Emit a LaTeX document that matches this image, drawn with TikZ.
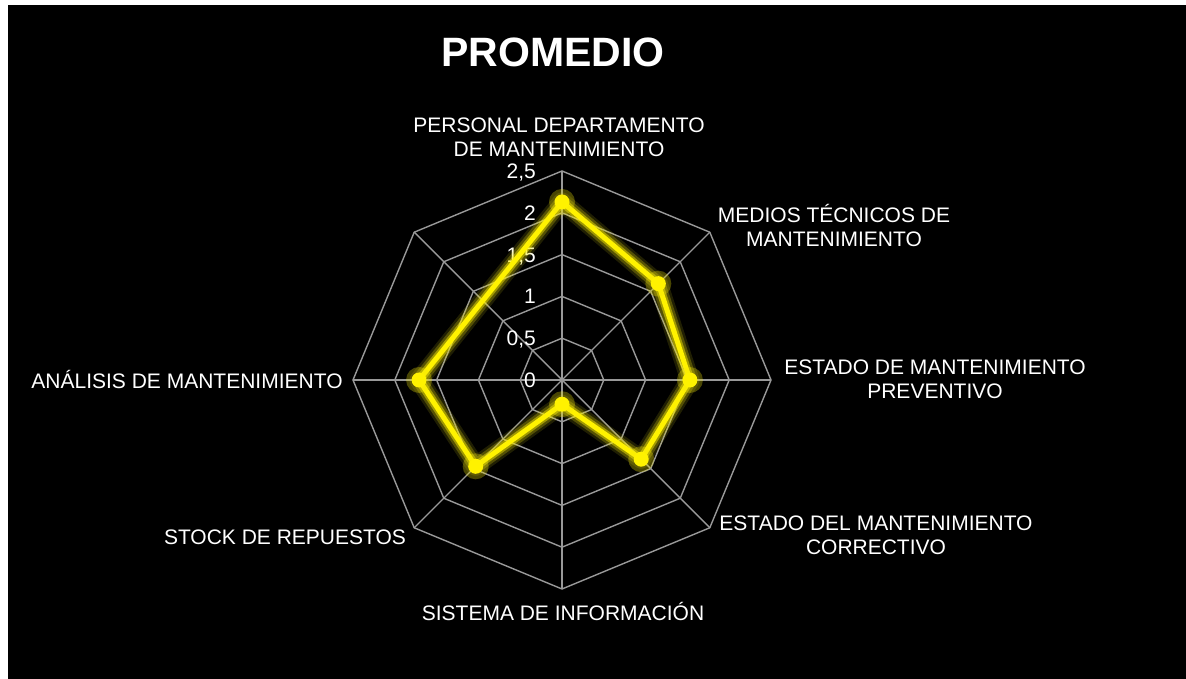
\documentclass[tikz,border=0pt]{standalone}
\usepackage{fontspec}
\setmainfont{Liberation Sans}
\begin{document}
\begin{tikzpicture}[x=1pt,y=1pt,
  gridline/.style={draw=white!60!black, line width=1.4pt},
  lab/.style={text=white, font=\fontsize{21}{24}\selectfont, align=center, inner sep=0pt},
  val/.style={text=white, font=\fontsize{21}{24}\selectfont, anchor=east, inner sep=0pt, text height=15pt, text depth=0pt},
  glowA/.style={draw=yellow!90!black, line width=19pt, opacity=0.14, line join=round, line cap=round},
  glowB/.style={draw=yellow!95!black, line width=14pt, opacity=0.25, line join=round, line cap=round},
  glowC/.style={draw=yellow, line width=9pt, opacity=0.45, line join=round, line cap=round},
  core/.style={draw=yellow, line width=5pt, line join=round, line cap=round},
  dotglow/.style={circle, fill=yellow!95!black, opacity=0.3, minimum size=26pt, inner sep=0pt},
  dot/.style={circle, fill=yellow, minimum size=15pt, inner sep=0pt}
]
\useasboundingbox (0,0) rectangle (1186,679);
\fill[white] (0,0) rectangle (1186,679);
\fill[black] (8,0) rectangle (1186,674);

\node[text=white, font=\fontsize{41}{46}\selectfont\bfseries, inner sep=0pt] (title) at (553,627) {PROMEDIO};

\begin{scope}[shift={(562,299)}]
  % grid rings
  \foreach \r in {1,...,5}
    \draw[gridline] (0:{\r*41.8}) -- (45:{\r*41.8}) -- (90:{\r*41.8}) -- (135:{\r*41.8}) -- (180:{\r*41.8}) -- (225:{\r*41.8}) -- (270:{\r*41.8}) -- (315:{\r*41.8}) -- cycle;
  % spokes
  \foreach \a in {0,45,...,315}
    \draw[gridline] (0,0) -- (\a:209);

  % scale labels
  \node[val] (v0) at (-26,0) {0};
  \node[val] (v1) at (-26,41.8) {0,5};
  \node[val] (v2) at (-26,83.6) {1};
  \node[val] (v3) at (-26,125.4) {1,5};
  \node[val] (v4) at (-26,167.2) {2};
  \node[val] (v5) at (-26,209) {2,5};

  % data points
  \coordinate (p1) at (90:{2.13*83.6});
  \coordinate (p2) at (45:{1.63*83.6});
  \coordinate (p3) at (0:{1.53*83.6});
  \coordinate (p4) at (-45:{1.34*83.6});
  \coordinate (p5) at (-90:{0.29*83.6});
  \coordinate (p6) at (-135:{1.46*83.6});
  \coordinate (p7) at (180:{1.71*83.6});

  \foreach \s in {glowA,glowB,glowC,core}
    \draw[\s] (p7) -- (p1) -- (p2) -- (p3) -- (p4) -- (p5) -- (p6) -- cycle;

  \foreach \p in {p1,p2,p3,p4,p5,p6,p7} {
    \node[dotglow] at (\p) {};
    \node[dot] at (\p) {};
  }
\end{scope}

% category labels
\node[lab] (c1) at (559,542) {PERSONAL DEPARTAMENTO\\DE MANTENIMIENTO};
\node[lab] (c2) at (834,453.5) {MEDIOS TÉCNICOS DE\\MANTENIMIENTO};
\node[lab] (c3) at (935,300) {ESTADO DE MANTENIMIENTO\\PREVENTIVO};
\node[lab] (c4) at (876,144) {ESTADO DEL MANTENIMIENTO\\CORRECTIVO};
\node[lab] (c5) at (563,67) {SISTEMA DE INFORMACIÓN};
\node[lab] (c6) at (285,142) {STOCK DE REPUESTOS};
\node[lab] (c7) at (187,299) {ANÁLISIS DE MANTENIMIENTO};
\end{tikzpicture}
\end{document}
